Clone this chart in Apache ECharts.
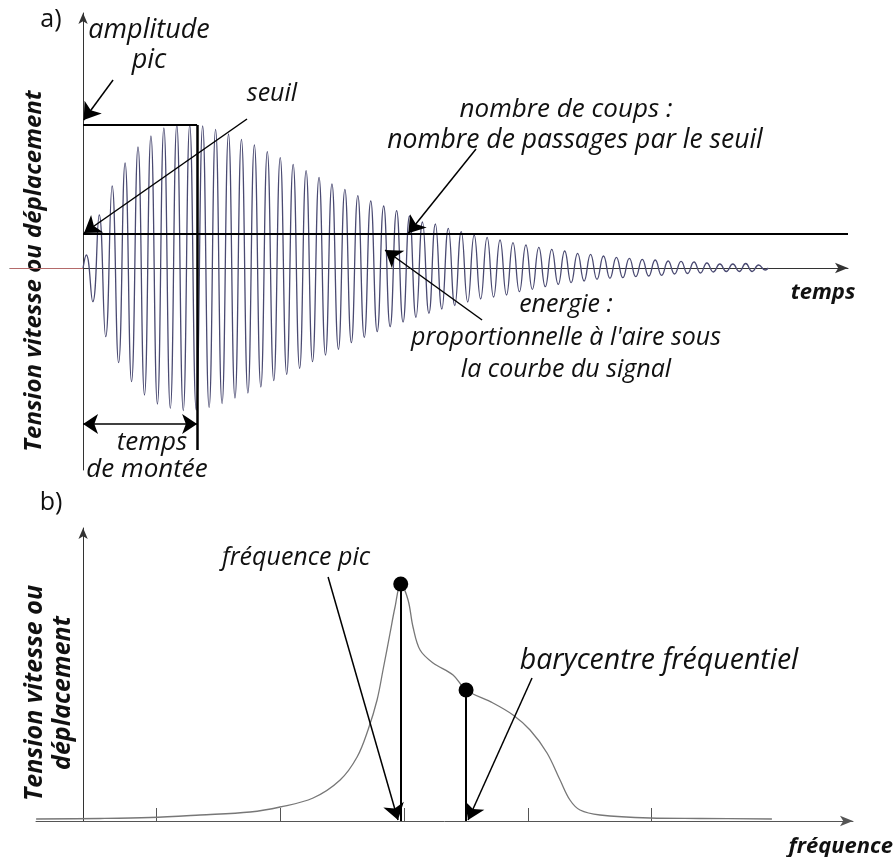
<!DOCTYPE html>
<html>
<head>
<meta charset="utf-8">
<script src="https://cdn.jsdelivr.net/npm/echarts@6/dist/echarts.min.js"></script>
<style>
html,body{margin:0;padding:0;background:#fff;}
#c{width:895px;height:857px;}
</style>
</head>
<body>
<div id="c"></div>
<script>
// ---------- Panel a) : burst signal (time in cycles, amplitude in arbitrary units)
const PEAKS = [13,53,82,105,121,132,140,143,143,142,138.7,134,128.7,123,116.3,110.3,103.7,97.3,90.7,84,
  78.7,72.3,67,62,57.3,52,46,44,39.7,36.3,33,30.7,28,25.3,23,20.7,18.7,17,14.7,13.7,
  12,10.7,9.7,8.7,8,7,6.7,6,5,4,4,4.5,3];
const TROUGHS = [-33.7,-68.7,-94.7,-113.7,-127,-136,-140.3,-142.5,-142,-139.5,-135.5,-130,-125,-119,-112.7,-106.3,-100.3,-93.7,-87,-81.3,
  -74.7,-69.3,-63.7,-58.7,-54,-49.3,-45.3,-41,-37.5,-34,-31,-29,-27,-23.7,-21.3,-18.7,-16.3,-14.7,-13,-11.3,
  -10.3,-9.7,-8.7,-8,-7.3,-6,-5.5,-5,-4,-3.5,-3.5,-3.5,-2];
const THRESHOLD = 34;          // seuil
const PEAK_AMP = 143;          // amplitude pic
const RISE_TIME = 8.82;        // temps de montée (cycles)
const TIME_RANGE = [-5.65, 59.16];
const AMP_RANGE = [-202, 255];

// ---------- Panel b) : spectrum
const FREQ = [-37.9,13.7,54,94.4,134.7,158.9,185.5,207.3,221,229.8,237.1,241.9,247.6,251.6,256.2,262.1,266.1,271.8,282.3,298.4,308.9,330.6,346.8,360.5,374.2,384.7,392.7,400.8,416.9,457.3,497.6,555.6];
const SPEC = [2,2.5,3.5,6,9,14,23,41,64,91,121,151,188,214,237,221,194,171,158,146,131,118,106,91,68,41,21,11,6,3,2.5,2];
const FREQ_PEAK = [256.2, 237];
const BARYCENTRE = [308.9, 131];
const FREQ_TICKS = [59, 159, 259, 359, 458];
const FREQ_RANGE = [-38, 621];
const SPEC_RANGE = [0, 293];

// build the wave from the read extremes (one peak and one trough per cycle)
const wave = [[0, 0]];
for (let k = 0; k < PEAKS.length; k++) {
  wave.push([k + 0.25, PEAKS[k]]);
  wave.push([k + 0.75, TROUGHS[k]]);
}
wave.push([PEAKS.length, 0]);

const spectrum = FREQ.map((f, i) => [f, SPEC[i]]);

const AX = '#333';
const seg = (a, b, opt) => {
  opt = opt || {};
  return [
    {coord: a, symbol: opt.s0 || 'none', symbolSize: opt.ss || 14},
    {coord: b, symbol: opt.s1 || 'none', symbolSize: opt.ss || 14,
     lineStyle: {color: opt.color || '#000', width: opt.w || 1.5, type: 'solid'}}
  ];
};

const it = s => 'italic ' + s + 'px "Open Sans"';
const bi = s => 'italic bold ' + s + 'px "Open Sans"';
function txt(t, x, y, font, align, rot) {
  return {type: 'text', x: x, y: y, rotation: rot || 0,
    style: {text: t, font: font, fill: '#111', align: align || 'center', verticalAlign: 'middle'}};
}

const chart = echarts.init(document.getElementById('c'), null, {renderer: 'canvas'});
chart.setOption({
  backgroundColor: '#fff',
  animation: false,
  grid: [
    {left: 10, right: 47, top: 13, bottom: 387},
    {left: 36, right: 42, top: 528, bottom: 36}
  ],
  xAxis: [
    {type: 'value', gridIndex: 0, min: TIME_RANGE[0], max: TIME_RANGE[1],
     axisLine: {show: true, onZero: true, symbol: ['none', 'arrow'], symbolSize: [8, 13], lineStyle: {color: AX, width: 1}},
     axisTick: {show: false}, axisLabel: {show: false}, splitLine: {show: false}},
    {type: 'value', gridIndex: 1, min: FREQ_RANGE[0], max: FREQ_RANGE[1],
     axisLine: {show: true, onZero: true, symbol: ['none', 'arrow'], symbolSize: [8, 13], lineStyle: {color: '#555', width: 1}},
     axisTick: {show: true, inside: true, length: 13, customValues: FREQ_TICKS, lineStyle: {color: '#555'}},
     axisLabel: {show: false, customValues: FREQ_TICKS}, splitLine: {show: false}}
  ],
  yAxis: [
    {type: 'value', gridIndex: 0, min: AMP_RANGE[0], max: AMP_RANGE[1],
     axisLine: {show: true, onZero: true, symbol: ['none', 'arrow'], symbolSize: [7, 11], lineStyle: {color: AX, width: 1}},
     axisTick: {show: false}, axisLabel: {show: false}, splitLine: {show: false}},
    {type: 'value', gridIndex: 1, min: SPEC_RANGE[0], max: SPEC_RANGE[1],
     axisLine: {show: true, onZero: true, symbol: ['none', 'arrow'], symbolSize: [7, 11], lineStyle: {color: AX, width: 1}},
     axisTick: {show: false}, axisLabel: {show: false}, splitLine: {show: false}}
  ],
  series: [
    {type: 'line', xAxisIndex: 0, yAxisIndex: 0, data: wave, smooth: 0.5, symbol: 'none',
     lineStyle: {color: '#4a4a72', width: 1.3}, z: 2,
     markLine: {silent: true, symbol: 'none', label: {show: false}, emphasis: {disabled: true},
       lineStyle: {color: '#000', width: 1.5, type: 'solid'},
       data: [
         seg([TIME_RANGE[0], 0], [0, 0], {color: '#b46a6a', w: 1}),
         seg([0, PEAK_AMP], [RISE_TIME, PEAK_AMP], {w: 2}),
         seg([RISE_TIME, PEAK_AMP], [RISE_TIME, -182], {w: 2.5}),
         seg([0, THRESHOLD], [TIME_RANGE[1], THRESHOLD], {w: 2}),
         seg([0, -156], [RISE_TIME, -156], {s0: 'arrow', s1: 'arrow', w: 1.6, ss: 15}),
         seg([2.32, 188], [0.05, 148], {s1: 'arrow', ss: 16}),
         seg([12.68, 149], [0.08, 35], {s1: 'arrow', ss: 16}),
         seg([30.39, 119], [25.16, 34.7], {s1: 'arrow', ss: 16}),
         seg([30.86, -52], [23.36, 18], {s1: 'arrow', ss: 16})
       ]}},
    {type: 'line', xAxisIndex: 1, yAxisIndex: 1, data: spectrum, smooth: 0.35, symbol: 'none',
     lineStyle: {color: '#777', width: 1.3}, z: 2,
     markLine: {silent: true, symbol: 'none', label: {show: false}, emphasis: {disabled: true},
       lineStyle: {color: '#000', width: 1.5, type: 'solid'},
       data: [
         seg([FREQ_PEAK[0], FREQ_PEAK[1]], [FREQ_PEAK[0], 0], {w: 2}),
         seg([BARYCENTRE[0], BARYCENTRE[1]], [BARYCENTRE[0], 0], {w: 2}),
         seg([197.6, 244], [254, 1], {s1: 'arrow', ss: 16}),
         seg([362.1, 143], [310.5, 1], {s1: 'arrow', ss: 16})
       ]}},
    {type: 'scatter', xAxisIndex: 1, yAxisIndex: 1, data: [FREQ_PEAK, BARYCENTRE],
     symbolSize: 15, itemStyle: {color: '#000', opacity: 1}, z: 5}
  ],
  graphic: [
    txt('a)', 51, 20, '25px "Open Sans"'),
    txt('amplitude', 149, 30, it(27)),
    txt('pic', 149, 60, it(27)),
    txt('seuil', 272, 94, it(25)),
    txt('nombre de coups :', 566, 110, it(26)),
    txt('nombre de passages par le seuil', 575, 140, it(26.5)),
    txt('energie :', 566, 305, it(25)),
    txt("proportionnelle à l'aire sous", 566, 338, it(25)),
    txt('la courbe du signal', 566, 370, it(25)),
    txt('temps', 152, 443, it(26)),
    txt('de montée', 147, 470, it(26)),
    txt('temps', 823, 293, bi(22)),
    txt('Tension vitesse ou déplacement', 34, 271, bi(24), 'center', Math.PI / 2),
    txt('b)', 51, 503, '25px "Open Sans"'),
    txt('fréquence pic', 296, 558, it(25)),
    txt('barycentre fréquentiel', 659, 661, it(28.5)),
    txt('fréquence', 893, 847, bi(22), 'right'),
    txt('Tension vitesse ou', 35, 693, bi(25), 'center', Math.PI / 2),
    txt('déplacement', 63, 693, bi(25), 'center', Math.PI / 2)
  ]
});
</script>
</body>
</html>
